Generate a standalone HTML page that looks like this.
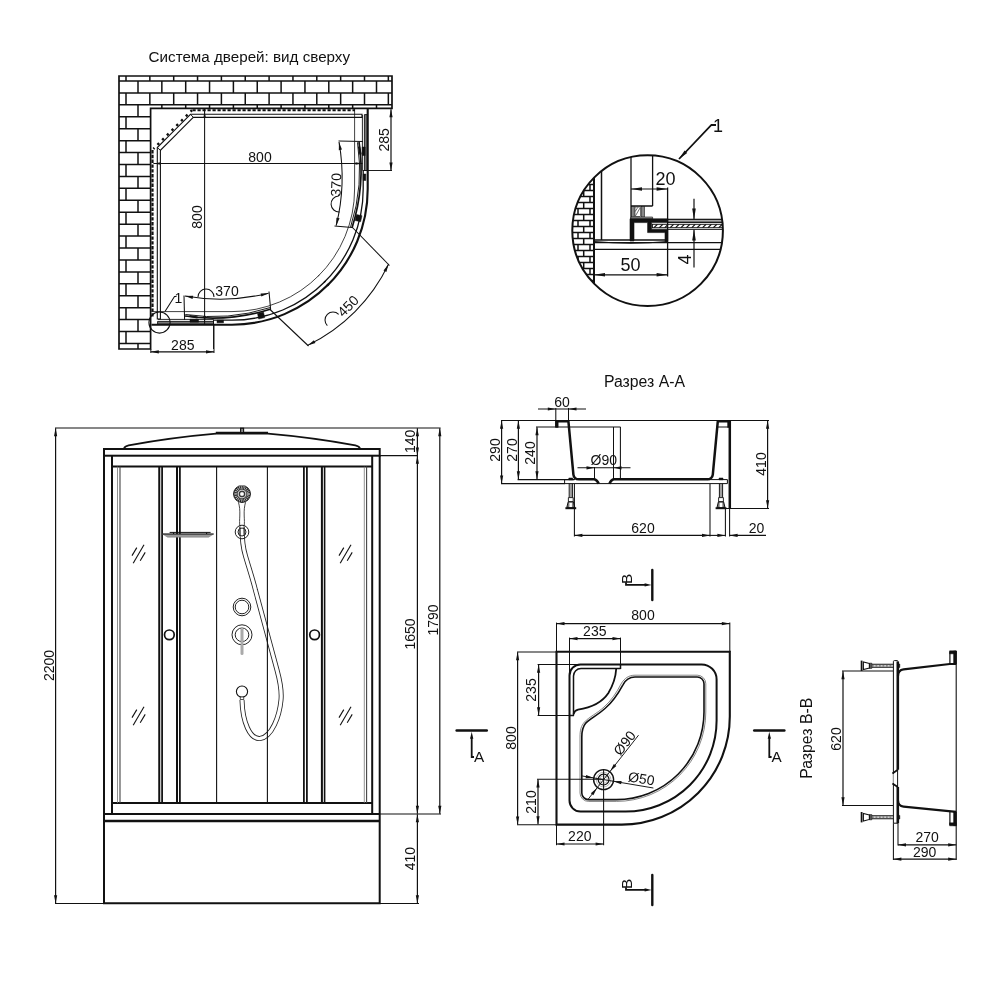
<!DOCTYPE html>
<html lang="ru"><head><meta charset="utf-8"><title>Схема душевой кабины</title>
<style>
html,body{margin:0;padding:0;background:#fff;}
body{width:1000px;height:1000px;overflow:hidden;}
svg{display:block;will-change:transform;}
svg text{font-family:'Liberation Sans', sans-serif;fill:#111;}
</style></head><body>
<svg width="1000" height="1000" viewBox="0 0 1000 1000">
<rect x="0" y="0" width="1000" height="1000" fill="#fff"/>
<g id="topview">
<text x="148.60" y="61.60" font-size="15.2" text-anchor="start" >Система дверей: вид сверху</text>
<clipPath id="wallclip"><path d="M119 76 H392 V108.4 H150.6 V349 H119 Z"/></clipPath>
<g clip-path="url(#wallclip)">
<line x1="119.00" y1="81.00" x2="392.00" y2="81.00" stroke="#111" stroke-width="1.5" />
<line x1="119.00" y1="92.93" x2="392.00" y2="92.93" stroke="#111" stroke-width="1.5" />
<line x1="119.00" y1="104.86" x2="392.00" y2="104.86" stroke="#111" stroke-width="1.5" />
<line x1="119.00" y1="116.79" x2="150.60" y2="116.79" stroke="#111" stroke-width="1.5" />
<line x1="119.00" y1="128.72" x2="150.60" y2="128.72" stroke="#111" stroke-width="1.5" />
<line x1="119.00" y1="140.65" x2="150.60" y2="140.65" stroke="#111" stroke-width="1.5" />
<line x1="119.00" y1="152.58" x2="150.60" y2="152.58" stroke="#111" stroke-width="1.5" />
<line x1="119.00" y1="164.51" x2="150.60" y2="164.51" stroke="#111" stroke-width="1.5" />
<line x1="119.00" y1="176.44" x2="150.60" y2="176.44" stroke="#111" stroke-width="1.5" />
<line x1="119.00" y1="188.37" x2="150.60" y2="188.37" stroke="#111" stroke-width="1.5" />
<line x1="119.00" y1="200.30" x2="150.60" y2="200.30" stroke="#111" stroke-width="1.5" />
<line x1="119.00" y1="212.23" x2="150.60" y2="212.23" stroke="#111" stroke-width="1.5" />
<line x1="119.00" y1="224.16" x2="150.60" y2="224.16" stroke="#111" stroke-width="1.5" />
<line x1="119.00" y1="236.09" x2="150.60" y2="236.09" stroke="#111" stroke-width="1.5" />
<line x1="119.00" y1="248.02" x2="150.60" y2="248.02" stroke="#111" stroke-width="1.5" />
<line x1="119.00" y1="259.95" x2="150.60" y2="259.95" stroke="#111" stroke-width="1.5" />
<line x1="119.00" y1="271.88" x2="150.60" y2="271.88" stroke="#111" stroke-width="1.5" />
<line x1="119.00" y1="283.81" x2="150.60" y2="283.81" stroke="#111" stroke-width="1.5" />
<line x1="119.00" y1="295.74" x2="150.60" y2="295.74" stroke="#111" stroke-width="1.5" />
<line x1="119.00" y1="307.67" x2="150.60" y2="307.67" stroke="#111" stroke-width="1.5" />
<line x1="119.00" y1="319.60" x2="150.60" y2="319.60" stroke="#111" stroke-width="1.5" />
<line x1="119.00" y1="331.53" x2="150.60" y2="331.53" stroke="#111" stroke-width="1.5" />
<line x1="119.00" y1="343.46" x2="150.60" y2="343.46" stroke="#111" stroke-width="1.5" />
<line x1="126.00" y1="76.00" x2="126.00" y2="81.00" stroke="#111" stroke-width="1.5" />
<line x1="149.85" y1="76.00" x2="149.85" y2="81.00" stroke="#111" stroke-width="1.5" />
<line x1="173.70" y1="76.00" x2="173.70" y2="81.00" stroke="#111" stroke-width="1.5" />
<line x1="197.55" y1="76.00" x2="197.55" y2="81.00" stroke="#111" stroke-width="1.5" />
<line x1="221.40" y1="76.00" x2="221.40" y2="81.00" stroke="#111" stroke-width="1.5" />
<line x1="245.25" y1="76.00" x2="245.25" y2="81.00" stroke="#111" stroke-width="1.5" />
<line x1="269.10" y1="76.00" x2="269.10" y2="81.00" stroke="#111" stroke-width="1.5" />
<line x1="292.95" y1="76.00" x2="292.95" y2="81.00" stroke="#111" stroke-width="1.5" />
<line x1="316.80" y1="76.00" x2="316.80" y2="81.00" stroke="#111" stroke-width="1.5" />
<line x1="340.65" y1="76.00" x2="340.65" y2="81.00" stroke="#111" stroke-width="1.5" />
<line x1="364.50" y1="76.00" x2="364.50" y2="81.00" stroke="#111" stroke-width="1.5" />
<line x1="388.35" y1="76.00" x2="388.35" y2="81.00" stroke="#111" stroke-width="1.5" />
<line x1="138.00" y1="81.00" x2="138.00" y2="92.93" stroke="#111" stroke-width="1.5" />
<line x1="161.85" y1="81.00" x2="161.85" y2="92.93" stroke="#111" stroke-width="1.5" />
<line x1="185.70" y1="81.00" x2="185.70" y2="92.93" stroke="#111" stroke-width="1.5" />
<line x1="209.55" y1="81.00" x2="209.55" y2="92.93" stroke="#111" stroke-width="1.5" />
<line x1="233.40" y1="81.00" x2="233.40" y2="92.93" stroke="#111" stroke-width="1.5" />
<line x1="257.25" y1="81.00" x2="257.25" y2="92.93" stroke="#111" stroke-width="1.5" />
<line x1="281.10" y1="81.00" x2="281.10" y2="92.93" stroke="#111" stroke-width="1.5" />
<line x1="304.95" y1="81.00" x2="304.95" y2="92.93" stroke="#111" stroke-width="1.5" />
<line x1="328.80" y1="81.00" x2="328.80" y2="92.93" stroke="#111" stroke-width="1.5" />
<line x1="352.65" y1="81.00" x2="352.65" y2="92.93" stroke="#111" stroke-width="1.5" />
<line x1="376.50" y1="81.00" x2="376.50" y2="92.93" stroke="#111" stroke-width="1.5" />
<line x1="126.00" y1="92.93" x2="126.00" y2="104.86" stroke="#111" stroke-width="1.5" />
<line x1="149.85" y1="92.93" x2="149.85" y2="104.86" stroke="#111" stroke-width="1.5" />
<line x1="173.70" y1="92.93" x2="173.70" y2="104.86" stroke="#111" stroke-width="1.5" />
<line x1="197.55" y1="92.93" x2="197.55" y2="104.86" stroke="#111" stroke-width="1.5" />
<line x1="221.40" y1="92.93" x2="221.40" y2="104.86" stroke="#111" stroke-width="1.5" />
<line x1="245.25" y1="92.93" x2="245.25" y2="104.86" stroke="#111" stroke-width="1.5" />
<line x1="269.10" y1="92.93" x2="269.10" y2="104.86" stroke="#111" stroke-width="1.5" />
<line x1="292.95" y1="92.93" x2="292.95" y2="104.86" stroke="#111" stroke-width="1.5" />
<line x1="316.80" y1="92.93" x2="316.80" y2="104.86" stroke="#111" stroke-width="1.5" />
<line x1="340.65" y1="92.93" x2="340.65" y2="104.86" stroke="#111" stroke-width="1.5" />
<line x1="364.50" y1="92.93" x2="364.50" y2="104.86" stroke="#111" stroke-width="1.5" />
<line x1="388.35" y1="92.93" x2="388.35" y2="104.86" stroke="#111" stroke-width="1.5" />
<line x1="138.00" y1="104.86" x2="138.00" y2="116.79" stroke="#111" stroke-width="1.5" />
<line x1="161.85" y1="104.86" x2="161.85" y2="116.79" stroke="#111" stroke-width="1.5" />
<line x1="185.70" y1="104.86" x2="185.70" y2="116.79" stroke="#111" stroke-width="1.5" />
<line x1="209.55" y1="104.86" x2="209.55" y2="116.79" stroke="#111" stroke-width="1.5" />
<line x1="233.40" y1="104.86" x2="233.40" y2="116.79" stroke="#111" stroke-width="1.5" />
<line x1="257.25" y1="104.86" x2="257.25" y2="116.79" stroke="#111" stroke-width="1.5" />
<line x1="281.10" y1="104.86" x2="281.10" y2="116.79" stroke="#111" stroke-width="1.5" />
<line x1="304.95" y1="104.86" x2="304.95" y2="116.79" stroke="#111" stroke-width="1.5" />
<line x1="328.80" y1="104.86" x2="328.80" y2="116.79" stroke="#111" stroke-width="1.5" />
<line x1="352.65" y1="104.86" x2="352.65" y2="116.79" stroke="#111" stroke-width="1.5" />
<line x1="376.50" y1="104.86" x2="376.50" y2="116.79" stroke="#111" stroke-width="1.5" />
<line x1="126.00" y1="116.79" x2="126.00" y2="128.72" stroke="#111" stroke-width="1.5" />
<line x1="173.70" y1="116.79" x2="173.70" y2="128.72" stroke="#111" stroke-width="1.5" />
<line x1="197.55" y1="116.79" x2="197.55" y2="128.72" stroke="#111" stroke-width="1.5" />
<line x1="221.40" y1="116.79" x2="221.40" y2="128.72" stroke="#111" stroke-width="1.5" />
<line x1="245.25" y1="116.79" x2="245.25" y2="128.72" stroke="#111" stroke-width="1.5" />
<line x1="269.10" y1="116.79" x2="269.10" y2="128.72" stroke="#111" stroke-width="1.5" />
<line x1="292.95" y1="116.79" x2="292.95" y2="128.72" stroke="#111" stroke-width="1.5" />
<line x1="316.80" y1="116.79" x2="316.80" y2="128.72" stroke="#111" stroke-width="1.5" />
<line x1="340.65" y1="116.79" x2="340.65" y2="128.72" stroke="#111" stroke-width="1.5" />
<line x1="364.50" y1="116.79" x2="364.50" y2="128.72" stroke="#111" stroke-width="1.5" />
<line x1="388.35" y1="116.79" x2="388.35" y2="128.72" stroke="#111" stroke-width="1.5" />
<line x1="138.00" y1="128.72" x2="138.00" y2="140.65" stroke="#111" stroke-width="1.5" />
<line x1="161.85" y1="128.72" x2="161.85" y2="140.65" stroke="#111" stroke-width="1.5" />
<line x1="185.70" y1="128.72" x2="185.70" y2="140.65" stroke="#111" stroke-width="1.5" />
<line x1="209.55" y1="128.72" x2="209.55" y2="140.65" stroke="#111" stroke-width="1.5" />
<line x1="233.40" y1="128.72" x2="233.40" y2="140.65" stroke="#111" stroke-width="1.5" />
<line x1="257.25" y1="128.72" x2="257.25" y2="140.65" stroke="#111" stroke-width="1.5" />
<line x1="281.10" y1="128.72" x2="281.10" y2="140.65" stroke="#111" stroke-width="1.5" />
<line x1="304.95" y1="128.72" x2="304.95" y2="140.65" stroke="#111" stroke-width="1.5" />
<line x1="328.80" y1="128.72" x2="328.80" y2="140.65" stroke="#111" stroke-width="1.5" />
<line x1="352.65" y1="128.72" x2="352.65" y2="140.65" stroke="#111" stroke-width="1.5" />
<line x1="376.50" y1="128.72" x2="376.50" y2="140.65" stroke="#111" stroke-width="1.5" />
<line x1="126.00" y1="140.65" x2="126.00" y2="152.58" stroke="#111" stroke-width="1.5" />
<line x1="173.70" y1="140.65" x2="173.70" y2="152.58" stroke="#111" stroke-width="1.5" />
<line x1="197.55" y1="140.65" x2="197.55" y2="152.58" stroke="#111" stroke-width="1.5" />
<line x1="221.40" y1="140.65" x2="221.40" y2="152.58" stroke="#111" stroke-width="1.5" />
<line x1="245.25" y1="140.65" x2="245.25" y2="152.58" stroke="#111" stroke-width="1.5" />
<line x1="269.10" y1="140.65" x2="269.10" y2="152.58" stroke="#111" stroke-width="1.5" />
<line x1="292.95" y1="140.65" x2="292.95" y2="152.58" stroke="#111" stroke-width="1.5" />
<line x1="316.80" y1="140.65" x2="316.80" y2="152.58" stroke="#111" stroke-width="1.5" />
<line x1="340.65" y1="140.65" x2="340.65" y2="152.58" stroke="#111" stroke-width="1.5" />
<line x1="364.50" y1="140.65" x2="364.50" y2="152.58" stroke="#111" stroke-width="1.5" />
<line x1="388.35" y1="140.65" x2="388.35" y2="152.58" stroke="#111" stroke-width="1.5" />
<line x1="138.00" y1="152.58" x2="138.00" y2="164.51" stroke="#111" stroke-width="1.5" />
<line x1="161.85" y1="152.58" x2="161.85" y2="164.51" stroke="#111" stroke-width="1.5" />
<line x1="185.70" y1="152.58" x2="185.70" y2="164.51" stroke="#111" stroke-width="1.5" />
<line x1="209.55" y1="152.58" x2="209.55" y2="164.51" stroke="#111" stroke-width="1.5" />
<line x1="233.40" y1="152.58" x2="233.40" y2="164.51" stroke="#111" stroke-width="1.5" />
<line x1="257.25" y1="152.58" x2="257.25" y2="164.51" stroke="#111" stroke-width="1.5" />
<line x1="281.10" y1="152.58" x2="281.10" y2="164.51" stroke="#111" stroke-width="1.5" />
<line x1="304.95" y1="152.58" x2="304.95" y2="164.51" stroke="#111" stroke-width="1.5" />
<line x1="328.80" y1="152.58" x2="328.80" y2="164.51" stroke="#111" stroke-width="1.5" />
<line x1="352.65" y1="152.58" x2="352.65" y2="164.51" stroke="#111" stroke-width="1.5" />
<line x1="376.50" y1="152.58" x2="376.50" y2="164.51" stroke="#111" stroke-width="1.5" />
<line x1="126.00" y1="164.51" x2="126.00" y2="176.44" stroke="#111" stroke-width="1.5" />
<line x1="173.70" y1="164.51" x2="173.70" y2="176.44" stroke="#111" stroke-width="1.5" />
<line x1="197.55" y1="164.51" x2="197.55" y2="176.44" stroke="#111" stroke-width="1.5" />
<line x1="221.40" y1="164.51" x2="221.40" y2="176.44" stroke="#111" stroke-width="1.5" />
<line x1="245.25" y1="164.51" x2="245.25" y2="176.44" stroke="#111" stroke-width="1.5" />
<line x1="269.10" y1="164.51" x2="269.10" y2="176.44" stroke="#111" stroke-width="1.5" />
<line x1="292.95" y1="164.51" x2="292.95" y2="176.44" stroke="#111" stroke-width="1.5" />
<line x1="316.80" y1="164.51" x2="316.80" y2="176.44" stroke="#111" stroke-width="1.5" />
<line x1="340.65" y1="164.51" x2="340.65" y2="176.44" stroke="#111" stroke-width="1.5" />
<line x1="364.50" y1="164.51" x2="364.50" y2="176.44" stroke="#111" stroke-width="1.5" />
<line x1="388.35" y1="164.51" x2="388.35" y2="176.44" stroke="#111" stroke-width="1.5" />
<line x1="138.00" y1="176.44" x2="138.00" y2="188.37" stroke="#111" stroke-width="1.5" />
<line x1="161.85" y1="176.44" x2="161.85" y2="188.37" stroke="#111" stroke-width="1.5" />
<line x1="185.70" y1="176.44" x2="185.70" y2="188.37" stroke="#111" stroke-width="1.5" />
<line x1="209.55" y1="176.44" x2="209.55" y2="188.37" stroke="#111" stroke-width="1.5" />
<line x1="233.40" y1="176.44" x2="233.40" y2="188.37" stroke="#111" stroke-width="1.5" />
<line x1="257.25" y1="176.44" x2="257.25" y2="188.37" stroke="#111" stroke-width="1.5" />
<line x1="281.10" y1="176.44" x2="281.10" y2="188.37" stroke="#111" stroke-width="1.5" />
<line x1="304.95" y1="176.44" x2="304.95" y2="188.37" stroke="#111" stroke-width="1.5" />
<line x1="328.80" y1="176.44" x2="328.80" y2="188.37" stroke="#111" stroke-width="1.5" />
<line x1="352.65" y1="176.44" x2="352.65" y2="188.37" stroke="#111" stroke-width="1.5" />
<line x1="376.50" y1="176.44" x2="376.50" y2="188.37" stroke="#111" stroke-width="1.5" />
<line x1="126.00" y1="188.37" x2="126.00" y2="200.30" stroke="#111" stroke-width="1.5" />
<line x1="173.70" y1="188.37" x2="173.70" y2="200.30" stroke="#111" stroke-width="1.5" />
<line x1="197.55" y1="188.37" x2="197.55" y2="200.30" stroke="#111" stroke-width="1.5" />
<line x1="221.40" y1="188.37" x2="221.40" y2="200.30" stroke="#111" stroke-width="1.5" />
<line x1="245.25" y1="188.37" x2="245.25" y2="200.30" stroke="#111" stroke-width="1.5" />
<line x1="269.10" y1="188.37" x2="269.10" y2="200.30" stroke="#111" stroke-width="1.5" />
<line x1="292.95" y1="188.37" x2="292.95" y2="200.30" stroke="#111" stroke-width="1.5" />
<line x1="316.80" y1="188.37" x2="316.80" y2="200.30" stroke="#111" stroke-width="1.5" />
<line x1="340.65" y1="188.37" x2="340.65" y2="200.30" stroke="#111" stroke-width="1.5" />
<line x1="364.50" y1="188.37" x2="364.50" y2="200.30" stroke="#111" stroke-width="1.5" />
<line x1="388.35" y1="188.37" x2="388.35" y2="200.30" stroke="#111" stroke-width="1.5" />
<line x1="138.00" y1="200.30" x2="138.00" y2="212.23" stroke="#111" stroke-width="1.5" />
<line x1="161.85" y1="200.30" x2="161.85" y2="212.23" stroke="#111" stroke-width="1.5" />
<line x1="185.70" y1="200.30" x2="185.70" y2="212.23" stroke="#111" stroke-width="1.5" />
<line x1="209.55" y1="200.30" x2="209.55" y2="212.23" stroke="#111" stroke-width="1.5" />
<line x1="233.40" y1="200.30" x2="233.40" y2="212.23" stroke="#111" stroke-width="1.5" />
<line x1="257.25" y1="200.30" x2="257.25" y2="212.23" stroke="#111" stroke-width="1.5" />
<line x1="281.10" y1="200.30" x2="281.10" y2="212.23" stroke="#111" stroke-width="1.5" />
<line x1="304.95" y1="200.30" x2="304.95" y2="212.23" stroke="#111" stroke-width="1.5" />
<line x1="328.80" y1="200.30" x2="328.80" y2="212.23" stroke="#111" stroke-width="1.5" />
<line x1="352.65" y1="200.30" x2="352.65" y2="212.23" stroke="#111" stroke-width="1.5" />
<line x1="376.50" y1="200.30" x2="376.50" y2="212.23" stroke="#111" stroke-width="1.5" />
<line x1="126.00" y1="212.23" x2="126.00" y2="224.16" stroke="#111" stroke-width="1.5" />
<line x1="173.70" y1="212.23" x2="173.70" y2="224.16" stroke="#111" stroke-width="1.5" />
<line x1="197.55" y1="212.23" x2="197.55" y2="224.16" stroke="#111" stroke-width="1.5" />
<line x1="221.40" y1="212.23" x2="221.40" y2="224.16" stroke="#111" stroke-width="1.5" />
<line x1="245.25" y1="212.23" x2="245.25" y2="224.16" stroke="#111" stroke-width="1.5" />
<line x1="269.10" y1="212.23" x2="269.10" y2="224.16" stroke="#111" stroke-width="1.5" />
<line x1="292.95" y1="212.23" x2="292.95" y2="224.16" stroke="#111" stroke-width="1.5" />
<line x1="316.80" y1="212.23" x2="316.80" y2="224.16" stroke="#111" stroke-width="1.5" />
<line x1="340.65" y1="212.23" x2="340.65" y2="224.16" stroke="#111" stroke-width="1.5" />
<line x1="364.50" y1="212.23" x2="364.50" y2="224.16" stroke="#111" stroke-width="1.5" />
<line x1="388.35" y1="212.23" x2="388.35" y2="224.16" stroke="#111" stroke-width="1.5" />
<line x1="138.00" y1="224.16" x2="138.00" y2="236.09" stroke="#111" stroke-width="1.5" />
<line x1="161.85" y1="224.16" x2="161.85" y2="236.09" stroke="#111" stroke-width="1.5" />
<line x1="185.70" y1="224.16" x2="185.70" y2="236.09" stroke="#111" stroke-width="1.5" />
<line x1="209.55" y1="224.16" x2="209.55" y2="236.09" stroke="#111" stroke-width="1.5" />
<line x1="233.40" y1="224.16" x2="233.40" y2="236.09" stroke="#111" stroke-width="1.5" />
<line x1="257.25" y1="224.16" x2="257.25" y2="236.09" stroke="#111" stroke-width="1.5" />
<line x1="281.10" y1="224.16" x2="281.10" y2="236.09" stroke="#111" stroke-width="1.5" />
<line x1="304.95" y1="224.16" x2="304.95" y2="236.09" stroke="#111" stroke-width="1.5" />
<line x1="328.80" y1="224.16" x2="328.80" y2="236.09" stroke="#111" stroke-width="1.5" />
<line x1="352.65" y1="224.16" x2="352.65" y2="236.09" stroke="#111" stroke-width="1.5" />
<line x1="376.50" y1="224.16" x2="376.50" y2="236.09" stroke="#111" stroke-width="1.5" />
<line x1="126.00" y1="236.09" x2="126.00" y2="248.02" stroke="#111" stroke-width="1.5" />
<line x1="173.70" y1="236.09" x2="173.70" y2="248.02" stroke="#111" stroke-width="1.5" />
<line x1="197.55" y1="236.09" x2="197.55" y2="248.02" stroke="#111" stroke-width="1.5" />
<line x1="221.40" y1="236.09" x2="221.40" y2="248.02" stroke="#111" stroke-width="1.5" />
<line x1="245.25" y1="236.09" x2="245.25" y2="248.02" stroke="#111" stroke-width="1.5" />
<line x1="269.10" y1="236.09" x2="269.10" y2="248.02" stroke="#111" stroke-width="1.5" />
<line x1="292.95" y1="236.09" x2="292.95" y2="248.02" stroke="#111" stroke-width="1.5" />
<line x1="316.80" y1="236.09" x2="316.80" y2="248.02" stroke="#111" stroke-width="1.5" />
<line x1="340.65" y1="236.09" x2="340.65" y2="248.02" stroke="#111" stroke-width="1.5" />
<line x1="364.50" y1="236.09" x2="364.50" y2="248.02" stroke="#111" stroke-width="1.5" />
<line x1="388.35" y1="236.09" x2="388.35" y2="248.02" stroke="#111" stroke-width="1.5" />
<line x1="138.00" y1="248.02" x2="138.00" y2="259.95" stroke="#111" stroke-width="1.5" />
<line x1="161.85" y1="248.02" x2="161.85" y2="259.95" stroke="#111" stroke-width="1.5" />
<line x1="185.70" y1="248.02" x2="185.70" y2="259.95" stroke="#111" stroke-width="1.5" />
<line x1="209.55" y1="248.02" x2="209.55" y2="259.95" stroke="#111" stroke-width="1.5" />
<line x1="233.40" y1="248.02" x2="233.40" y2="259.95" stroke="#111" stroke-width="1.5" />
<line x1="257.25" y1="248.02" x2="257.25" y2="259.95" stroke="#111" stroke-width="1.5" />
<line x1="281.10" y1="248.02" x2="281.10" y2="259.95" stroke="#111" stroke-width="1.5" />
<line x1="304.95" y1="248.02" x2="304.95" y2="259.95" stroke="#111" stroke-width="1.5" />
<line x1="328.80" y1="248.02" x2="328.80" y2="259.95" stroke="#111" stroke-width="1.5" />
<line x1="352.65" y1="248.02" x2="352.65" y2="259.95" stroke="#111" stroke-width="1.5" />
<line x1="376.50" y1="248.02" x2="376.50" y2="259.95" stroke="#111" stroke-width="1.5" />
<line x1="126.00" y1="259.95" x2="126.00" y2="271.88" stroke="#111" stroke-width="1.5" />
<line x1="173.70" y1="259.95" x2="173.70" y2="271.88" stroke="#111" stroke-width="1.5" />
<line x1="197.55" y1="259.95" x2="197.55" y2="271.88" stroke="#111" stroke-width="1.5" />
<line x1="221.40" y1="259.95" x2="221.40" y2="271.88" stroke="#111" stroke-width="1.5" />
<line x1="245.25" y1="259.95" x2="245.25" y2="271.88" stroke="#111" stroke-width="1.5" />
<line x1="269.10" y1="259.95" x2="269.10" y2="271.88" stroke="#111" stroke-width="1.5" />
<line x1="292.95" y1="259.95" x2="292.95" y2="271.88" stroke="#111" stroke-width="1.5" />
<line x1="316.80" y1="259.95" x2="316.80" y2="271.88" stroke="#111" stroke-width="1.5" />
<line x1="340.65" y1="259.95" x2="340.65" y2="271.88" stroke="#111" stroke-width="1.5" />
<line x1="364.50" y1="259.95" x2="364.50" y2="271.88" stroke="#111" stroke-width="1.5" />
<line x1="388.35" y1="259.95" x2="388.35" y2="271.88" stroke="#111" stroke-width="1.5" />
<line x1="138.00" y1="271.88" x2="138.00" y2="283.81" stroke="#111" stroke-width="1.5" />
<line x1="161.85" y1="271.88" x2="161.85" y2="283.81" stroke="#111" stroke-width="1.5" />
<line x1="185.70" y1="271.88" x2="185.70" y2="283.81" stroke="#111" stroke-width="1.5" />
<line x1="209.55" y1="271.88" x2="209.55" y2="283.81" stroke="#111" stroke-width="1.5" />
<line x1="233.40" y1="271.88" x2="233.40" y2="283.81" stroke="#111" stroke-width="1.5" />
<line x1="257.25" y1="271.88" x2="257.25" y2="283.81" stroke="#111" stroke-width="1.5" />
<line x1="281.10" y1="271.88" x2="281.10" y2="283.81" stroke="#111" stroke-width="1.5" />
<line x1="304.95" y1="271.88" x2="304.95" y2="283.81" stroke="#111" stroke-width="1.5" />
<line x1="328.80" y1="271.88" x2="328.80" y2="283.81" stroke="#111" stroke-width="1.5" />
<line x1="352.65" y1="271.88" x2="352.65" y2="283.81" stroke="#111" stroke-width="1.5" />
<line x1="376.50" y1="271.88" x2="376.50" y2="283.81" stroke="#111" stroke-width="1.5" />
<line x1="126.00" y1="283.81" x2="126.00" y2="295.74" stroke="#111" stroke-width="1.5" />
<line x1="173.70" y1="283.81" x2="173.70" y2="295.74" stroke="#111" stroke-width="1.5" />
<line x1="197.55" y1="283.81" x2="197.55" y2="295.74" stroke="#111" stroke-width="1.5" />
<line x1="221.40" y1="283.81" x2="221.40" y2="295.74" stroke="#111" stroke-width="1.5" />
<line x1="245.25" y1="283.81" x2="245.25" y2="295.74" stroke="#111" stroke-width="1.5" />
<line x1="269.10" y1="283.81" x2="269.10" y2="295.74" stroke="#111" stroke-width="1.5" />
<line x1="292.95" y1="283.81" x2="292.95" y2="295.74" stroke="#111" stroke-width="1.5" />
<line x1="316.80" y1="283.81" x2="316.80" y2="295.74" stroke="#111" stroke-width="1.5" />
<line x1="340.65" y1="283.81" x2="340.65" y2="295.74" stroke="#111" stroke-width="1.5" />
<line x1="364.50" y1="283.81" x2="364.50" y2="295.74" stroke="#111" stroke-width="1.5" />
<line x1="388.35" y1="283.81" x2="388.35" y2="295.74" stroke="#111" stroke-width="1.5" />
<line x1="138.00" y1="295.74" x2="138.00" y2="307.67" stroke="#111" stroke-width="1.5" />
<line x1="161.85" y1="295.74" x2="161.85" y2="307.67" stroke="#111" stroke-width="1.5" />
<line x1="185.70" y1="295.74" x2="185.70" y2="307.67" stroke="#111" stroke-width="1.5" />
<line x1="209.55" y1="295.74" x2="209.55" y2="307.67" stroke="#111" stroke-width="1.5" />
<line x1="233.40" y1="295.74" x2="233.40" y2="307.67" stroke="#111" stroke-width="1.5" />
<line x1="257.25" y1="295.74" x2="257.25" y2="307.67" stroke="#111" stroke-width="1.5" />
<line x1="281.10" y1="295.74" x2="281.10" y2="307.67" stroke="#111" stroke-width="1.5" />
<line x1="304.95" y1="295.74" x2="304.95" y2="307.67" stroke="#111" stroke-width="1.5" />
<line x1="328.80" y1="295.74" x2="328.80" y2="307.67" stroke="#111" stroke-width="1.5" />
<line x1="352.65" y1="295.74" x2="352.65" y2="307.67" stroke="#111" stroke-width="1.5" />
<line x1="376.50" y1="295.74" x2="376.50" y2="307.67" stroke="#111" stroke-width="1.5" />
<line x1="126.00" y1="307.67" x2="126.00" y2="319.60" stroke="#111" stroke-width="1.5" />
<line x1="173.70" y1="307.67" x2="173.70" y2="319.60" stroke="#111" stroke-width="1.5" />
<line x1="197.55" y1="307.67" x2="197.55" y2="319.60" stroke="#111" stroke-width="1.5" />
<line x1="221.40" y1="307.67" x2="221.40" y2="319.60" stroke="#111" stroke-width="1.5" />
<line x1="245.25" y1="307.67" x2="245.25" y2="319.60" stroke="#111" stroke-width="1.5" />
<line x1="269.10" y1="307.67" x2="269.10" y2="319.60" stroke="#111" stroke-width="1.5" />
<line x1="292.95" y1="307.67" x2="292.95" y2="319.60" stroke="#111" stroke-width="1.5" />
<line x1="316.80" y1="307.67" x2="316.80" y2="319.60" stroke="#111" stroke-width="1.5" />
<line x1="340.65" y1="307.67" x2="340.65" y2="319.60" stroke="#111" stroke-width="1.5" />
<line x1="364.50" y1="307.67" x2="364.50" y2="319.60" stroke="#111" stroke-width="1.5" />
<line x1="388.35" y1="307.67" x2="388.35" y2="319.60" stroke="#111" stroke-width="1.5" />
<line x1="138.00" y1="319.60" x2="138.00" y2="331.53" stroke="#111" stroke-width="1.5" />
<line x1="161.85" y1="319.60" x2="161.85" y2="331.53" stroke="#111" stroke-width="1.5" />
<line x1="185.70" y1="319.60" x2="185.70" y2="331.53" stroke="#111" stroke-width="1.5" />
<line x1="209.55" y1="319.60" x2="209.55" y2="331.53" stroke="#111" stroke-width="1.5" />
<line x1="233.40" y1="319.60" x2="233.40" y2="331.53" stroke="#111" stroke-width="1.5" />
<line x1="257.25" y1="319.60" x2="257.25" y2="331.53" stroke="#111" stroke-width="1.5" />
<line x1="281.10" y1="319.60" x2="281.10" y2="331.53" stroke="#111" stroke-width="1.5" />
<line x1="304.95" y1="319.60" x2="304.95" y2="331.53" stroke="#111" stroke-width="1.5" />
<line x1="328.80" y1="319.60" x2="328.80" y2="331.53" stroke="#111" stroke-width="1.5" />
<line x1="352.65" y1="319.60" x2="352.65" y2="331.53" stroke="#111" stroke-width="1.5" />
<line x1="376.50" y1="319.60" x2="376.50" y2="331.53" stroke="#111" stroke-width="1.5" />
<line x1="126.00" y1="331.53" x2="126.00" y2="343.46" stroke="#111" stroke-width="1.5" />
<line x1="173.70" y1="331.53" x2="173.70" y2="343.46" stroke="#111" stroke-width="1.5" />
<line x1="197.55" y1="331.53" x2="197.55" y2="343.46" stroke="#111" stroke-width="1.5" />
<line x1="221.40" y1="331.53" x2="221.40" y2="343.46" stroke="#111" stroke-width="1.5" />
<line x1="245.25" y1="331.53" x2="245.25" y2="343.46" stroke="#111" stroke-width="1.5" />
<line x1="269.10" y1="331.53" x2="269.10" y2="343.46" stroke="#111" stroke-width="1.5" />
<line x1="292.95" y1="331.53" x2="292.95" y2="343.46" stroke="#111" stroke-width="1.5" />
<line x1="316.80" y1="331.53" x2="316.80" y2="343.46" stroke="#111" stroke-width="1.5" />
<line x1="340.65" y1="331.53" x2="340.65" y2="343.46" stroke="#111" stroke-width="1.5" />
<line x1="364.50" y1="331.53" x2="364.50" y2="343.46" stroke="#111" stroke-width="1.5" />
<line x1="388.35" y1="331.53" x2="388.35" y2="343.46" stroke="#111" stroke-width="1.5" />
<line x1="138.00" y1="343.46" x2="138.00" y2="349.00" stroke="#111" stroke-width="1.5" />
<line x1="161.85" y1="343.46" x2="161.85" y2="349.00" stroke="#111" stroke-width="1.5" />
<line x1="185.70" y1="343.46" x2="185.70" y2="349.00" stroke="#111" stroke-width="1.5" />
<line x1="209.55" y1="343.46" x2="209.55" y2="349.00" stroke="#111" stroke-width="1.5" />
<line x1="233.40" y1="343.46" x2="233.40" y2="349.00" stroke="#111" stroke-width="1.5" />
<line x1="257.25" y1="343.46" x2="257.25" y2="349.00" stroke="#111" stroke-width="1.5" />
<line x1="281.10" y1="343.46" x2="281.10" y2="349.00" stroke="#111" stroke-width="1.5" />
<line x1="304.95" y1="343.46" x2="304.95" y2="349.00" stroke="#111" stroke-width="1.5" />
<line x1="328.80" y1="343.46" x2="328.80" y2="349.00" stroke="#111" stroke-width="1.5" />
<line x1="352.65" y1="343.46" x2="352.65" y2="349.00" stroke="#111" stroke-width="1.5" />
<line x1="376.50" y1="343.46" x2="376.50" y2="349.00" stroke="#111" stroke-width="1.5" />
</g>
<path d="M119 76 H392 V108.4 H150.6 V349 H119 Z" stroke="#111" stroke-width="1.7" fill="none" />
<line x1="192.50" y1="110.20" x2="355.00" y2="110.20" stroke="#111" stroke-width="2.0" stroke-dasharray="3.2 1.8"/>
<line x1="152.50" y1="150.00" x2="152.50" y2="318.00" stroke="#111" stroke-width="2.2" stroke-dasharray="3.4 1.4"/>
<line x1="153.40" y1="148.80" x2="192.00" y2="110.20" stroke="#111" stroke-width="2.4" stroke-dasharray="2.4 4.3" stroke-dashoffset="1"/>
<path d="M173.9 130.9 L190.5 114.3 H362 V117.4 H193.3 L176.8 133.9" stroke="#111" stroke-width="1.1" fill="none" />
<line x1="190.50" y1="114.30" x2="193.30" y2="117.40" stroke="#111" stroke-width="0.95" />
<path d="M367.70 108.5 V189 A135.7 135.7 0 0 1 327.11 285.79" stroke="#111" stroke-width="2.1" fill="none" />
<path d="M363.20 170.5 V189 A131.2 131.2 0 0 1 323.96 282.58" stroke="#111" stroke-width="1.3" fill="none" />
<path d="M354.60 108.5 V189 A122.6 122.6 0 0 1 317.93 276.44" stroke="#111" stroke-width="0.8" fill="none" />
<path d="M362.4 115 V170.5" stroke="#111" stroke-width="0.9" fill="none" />
<path d="M364.4 114.6 H367 V170.5 H364.4 Z" stroke="#111" stroke-width="0.9" fill="#777" />
<line x1="362.50" y1="170.50" x2="392.00" y2="170.50" stroke="#111" stroke-width="0.95" />
<path d="M359 142 Q365.5 185 352 228" stroke="#111" stroke-width="1.7" fill="none" />
<path d="M357.5 142.3 Q364 185 350.6 227" stroke="#111" stroke-width="0.95" fill="none" />
<path d="M362.2 147 h3 v8.5 h-3 z" stroke="#111" stroke-width="0.5" fill="#111" />
<path d="M363.2 174 h2.6 v6.5 h-2.6 z" stroke="#111" stroke-width="0.5" fill="#111" />
<path d="M356.5 214.5 l5.5 1.2 l-1.4 6 l-5.5 -1.2 z" stroke="#111" stroke-width="0.5" fill="#111" />
<path d="M359 146.5 l1.5 8" stroke="#111" stroke-width="2.2" fill="none" />
<line x1="338.50" y1="141.00" x2="363.00" y2="141.60" stroke="#111" stroke-width="1.05" />
<line x1="334.50" y1="226.00" x2="352.00" y2="227.60" stroke="#111" stroke-width="1.05" />
<path d="M339 142 Q346.5 184 336.2 225.5" stroke="#111" stroke-width="1.05" fill="none" />
<polygon points="339.00,142.00 341.96,149.60 338.81,150.16" fill="#111"/>
<polygon points="336.20,225.80 336.44,217.65 339.56,218.36" fill="#111"/>
<g transform="matrix(0 1 1 0 43 -43)">
<path d="M173.9 130.9 L190.5 114.3 H362 V117.4 H193.3 L176.8 133.9" stroke="#111" stroke-width="1.1" fill="none" />
<line x1="190.50" y1="114.30" x2="193.30" y2="117.40" stroke="#111" stroke-width="0.95" />
<path d="M367.70 108.5 V189 A135.7 135.7 0 0 1 327.11 285.79" stroke="#111" stroke-width="2.1" fill="none" />
<path d="M363.20 170.5 V189 A131.2 131.2 0 0 1 323.96 282.58" stroke="#111" stroke-width="1.3" fill="none" />
<path d="M354.60 108.5 V189 A122.6 122.6 0 0 1 317.93 276.44" stroke="#111" stroke-width="0.8" fill="none" />
<path d="M362.4 115 V170.5" stroke="#111" stroke-width="0.9" fill="none" />
<path d="M364.4 114.6 H367 V170.5 H364.4 Z" stroke="#111" stroke-width="0.9" fill="#777" />
<line x1="362.50" y1="170.50" x2="392.00" y2="170.50" stroke="#111" stroke-width="0.95" />
<path d="M359 142 Q365.5 185 352 228" stroke="#111" stroke-width="1.7" fill="none" />
<path d="M357.5 142.3 Q364 185 350.6 227" stroke="#111" stroke-width="0.95" fill="none" />
<path d="M362.2 147 h3 v8.5 h-3 z" stroke="#111" stroke-width="0.5" fill="#111" />
<path d="M363.2 174 h2.6 v6.5 h-2.6 z" stroke="#111" stroke-width="0.5" fill="#111" />
<path d="M356.5 214.5 l5.5 1.2 l-1.4 6 l-5.5 -1.2 z" stroke="#111" stroke-width="0.5" fill="#111" />
<path d="M359 146.5 l1.5 8" stroke="#111" stroke-width="2.2" fill="none" />
<line x1="338.50" y1="141.00" x2="363.00" y2="141.60" stroke="#111" stroke-width="1.05" />
<line x1="334.50" y1="226.00" x2="352.00" y2="227.60" stroke="#111" stroke-width="1.05" />
<path d="M339 142 Q346.5 184 336.2 225.5" stroke="#111" stroke-width="1.05" fill="none" />
<polygon points="339.00,142.00 341.96,149.60 338.81,150.16" fill="#111"/>
<polygon points="336.20,225.80 336.44,217.65 339.56,218.36" fill="#111"/>
</g>
<line x1="391.00" y1="109.30" x2="391.00" y2="170.50" stroke="#111" stroke-width="1.2" />
<polygon points="391.00,109.30 392.60,117.30 389.40,117.30" fill="#111"/>
<polygon points="391.00,170.50 389.40,162.50 392.60,162.50" fill="#111"/>
<text x="388.60" y="139.80" font-size="14" text-anchor="middle" transform="rotate(-90 388.60 139.80)" >285</text>
<line x1="150.80" y1="349.00" x2="150.80" y2="353.00" stroke="#111" stroke-width="0.95" />
<line x1="214.00" y1="324.50" x2="214.00" y2="353.00" stroke="#111" stroke-width="0.95" />
<line x1="150.80" y1="351.80" x2="214.00" y2="351.80" stroke="#111" stroke-width="1.2" />
<polygon points="150.80,351.80 158.80,350.20 158.80,353.40" fill="#111"/>
<polygon points="214.00,351.80 206.00,353.40 206.00,350.20" fill="#111"/>
<text x="182.80" y="349.60" font-size="14" text-anchor="middle" >285</text>
<line x1="153.40" y1="163.50" x2="362.50" y2="163.50" stroke="#111" stroke-width="1.05" />
<polygon points="153.60,163.50 160.60,162.20 160.60,164.80" fill="#111"/>
<polygon points="362.50,163.50 355.50,164.80 355.50,162.20" fill="#111"/>
<text x="260.00" y="161.60" font-size="14" text-anchor="middle" >800</text>
<line x1="204.60" y1="109.00" x2="204.60" y2="324.00" stroke="#111" stroke-width="1.05" />
<polygon points="204.60,111.00 205.90,118.00 203.30,118.00" fill="#111"/>
<polygon points="204.60,323.00 203.30,316.00 205.90,316.00" fill="#111"/>
<text x="201.80" y="217.00" font-size="14" text-anchor="middle" transform="rotate(-90 201.80 217.00)" >800</text>
<text x="227.00" y="296.00" font-size="14" text-anchor="middle" >370</text>
<path d="M198 297 A8 8 0 0 1 214 297" stroke="#111" stroke-width="1.05" fill="none" />
<text x="340.80" y="185.00" font-size="14" text-anchor="middle" transform="rotate(-88 340.80 185.00)" >370</text>
<path d="M339.6 212 A8 8 0 0 1 338.6 196" stroke="#111" stroke-width="1.05" fill="none" />
<circle cx="159.50" cy="322.50" r="10.60" stroke="#111" stroke-width="1.05" fill="none"/>
<path d="M165 311.5 L174.5 296.5 H176.5" stroke="#111" stroke-width="1.05" fill="none" />
<text x="178.30" y="302.50" font-size="14" text-anchor="middle" >1</text>
<line x1="352.00" y1="227.00" x2="389.50" y2="265.50" stroke="#111" stroke-width="1.05" />
<line x1="270.00" y1="309.50" x2="308.50" y2="346.00" stroke="#111" stroke-width="1.05" />
<path d="M388.65 264.05 A173.7 173.7 0 0 1 307.60 345.39" stroke="#111" stroke-width="1.05" fill="none" />
<polygon points="388.65,264.05 386.36,271.88 383.52,270.40" fill="#111"/>
<polygon points="307.60,345.39 313.93,340.24 315.42,343.07" fill="#111"/>
<text x="351.50" y="309.50" font-size="14" text-anchor="middle" transform="rotate(-45 351.50 309.50)" >450</text>
<g transform="rotate(-45 333 320)">
<path d="M325 320 A8 8 0 0 1 341 320" stroke="#111" stroke-width="1.05" fill="none" />
</g>
</g>
<g id="detail">
<clipPath id="dclip"><circle cx="647.6" cy="230.6" r="75.3"/></clipPath>
<g clip-path="url(#dclip)">
<line x1="560.00" y1="154.50" x2="594.00" y2="154.50" stroke="#111" stroke-width="1.5" />
<line x1="583.70" y1="154.50" x2="583.70" y2="160.50" stroke="#111" stroke-width="1.5" />
<line x1="571.70" y1="154.50" x2="571.70" y2="160.50" stroke="#111" stroke-width="1.5" />
<line x1="560.00" y1="160.50" x2="594.00" y2="160.50" stroke="#111" stroke-width="1.5" />
<line x1="590.00" y1="160.50" x2="590.00" y2="166.50" stroke="#111" stroke-width="1.5" />
<line x1="578.00" y1="160.50" x2="578.00" y2="166.50" stroke="#111" stroke-width="1.5" />
<line x1="560.00" y1="166.50" x2="594.00" y2="166.50" stroke="#111" stroke-width="1.5" />
<line x1="583.70" y1="166.50" x2="583.70" y2="172.50" stroke="#111" stroke-width="1.5" />
<line x1="571.70" y1="166.50" x2="571.70" y2="172.50" stroke="#111" stroke-width="1.5" />
<line x1="560.00" y1="172.50" x2="594.00" y2="172.50" stroke="#111" stroke-width="1.5" />
<line x1="590.00" y1="172.50" x2="590.00" y2="178.50" stroke="#111" stroke-width="1.5" />
<line x1="578.00" y1="172.50" x2="578.00" y2="178.50" stroke="#111" stroke-width="1.5" />
<line x1="560.00" y1="178.50" x2="594.00" y2="178.50" stroke="#111" stroke-width="1.5" />
<line x1="583.70" y1="178.50" x2="583.70" y2="184.50" stroke="#111" stroke-width="1.5" />
<line x1="571.70" y1="178.50" x2="571.70" y2="184.50" stroke="#111" stroke-width="1.5" />
<line x1="560.00" y1="184.50" x2="594.00" y2="184.50" stroke="#111" stroke-width="1.5" />
<line x1="590.00" y1="184.50" x2="590.00" y2="190.50" stroke="#111" stroke-width="1.5" />
<line x1="578.00" y1="184.50" x2="578.00" y2="190.50" stroke="#111" stroke-width="1.5" />
<line x1="560.00" y1="190.50" x2="594.00" y2="190.50" stroke="#111" stroke-width="1.5" />
<line x1="583.70" y1="190.50" x2="583.70" y2="196.50" stroke="#111" stroke-width="1.5" />
<line x1="571.70" y1="190.50" x2="571.70" y2="196.50" stroke="#111" stroke-width="1.5" />
<line x1="560.00" y1="196.50" x2="594.00" y2="196.50" stroke="#111" stroke-width="1.5" />
<line x1="590.00" y1="196.50" x2="590.00" y2="202.50" stroke="#111" stroke-width="1.5" />
<line x1="578.00" y1="196.50" x2="578.00" y2="202.50" stroke="#111" stroke-width="1.5" />
<line x1="560.00" y1="202.50" x2="594.00" y2="202.50" stroke="#111" stroke-width="1.5" />
<line x1="583.70" y1="202.50" x2="583.70" y2="208.50" stroke="#111" stroke-width="1.5" />
<line x1="571.70" y1="202.50" x2="571.70" y2="208.50" stroke="#111" stroke-width="1.5" />
<line x1="560.00" y1="208.50" x2="594.00" y2="208.50" stroke="#111" stroke-width="1.5" />
<line x1="590.00" y1="208.50" x2="590.00" y2="214.50" stroke="#111" stroke-width="1.5" />
<line x1="578.00" y1="208.50" x2="578.00" y2="214.50" stroke="#111" stroke-width="1.5" />
<line x1="560.00" y1="214.50" x2="594.00" y2="214.50" stroke="#111" stroke-width="1.5" />
<line x1="583.70" y1="214.50" x2="583.70" y2="220.50" stroke="#111" stroke-width="1.5" />
<line x1="571.70" y1="214.50" x2="571.70" y2="220.50" stroke="#111" stroke-width="1.5" />
<line x1="560.00" y1="220.50" x2="594.00" y2="220.50" stroke="#111" stroke-width="1.5" />
<line x1="590.00" y1="220.50" x2="590.00" y2="226.50" stroke="#111" stroke-width="1.5" />
<line x1="578.00" y1="220.50" x2="578.00" y2="226.50" stroke="#111" stroke-width="1.5" />
<line x1="560.00" y1="226.50" x2="594.00" y2="226.50" stroke="#111" stroke-width="1.5" />
<line x1="583.70" y1="226.50" x2="583.70" y2="232.50" stroke="#111" stroke-width="1.5" />
<line x1="571.70" y1="226.50" x2="571.70" y2="232.50" stroke="#111" stroke-width="1.5" />
<line x1="560.00" y1="232.50" x2="594.00" y2="232.50" stroke="#111" stroke-width="1.5" />
<line x1="590.00" y1="232.50" x2="590.00" y2="238.50" stroke="#111" stroke-width="1.5" />
<line x1="578.00" y1="232.50" x2="578.00" y2="238.50" stroke="#111" stroke-width="1.5" />
<line x1="560.00" y1="238.50" x2="594.00" y2="238.50" stroke="#111" stroke-width="1.5" />
<line x1="583.70" y1="238.50" x2="583.70" y2="244.50" stroke="#111" stroke-width="1.5" />
<line x1="571.70" y1="238.50" x2="571.70" y2="244.50" stroke="#111" stroke-width="1.5" />
<line x1="560.00" y1="244.50" x2="594.00" y2="244.50" stroke="#111" stroke-width="1.5" />
<line x1="590.00" y1="244.50" x2="590.00" y2="250.50" stroke="#111" stroke-width="1.5" />
<line x1="578.00" y1="244.50" x2="578.00" y2="250.50" stroke="#111" stroke-width="1.5" />
<line x1="560.00" y1="250.50" x2="594.00" y2="250.50" stroke="#111" stroke-width="1.5" />
<line x1="583.70" y1="250.50" x2="583.70" y2="256.50" stroke="#111" stroke-width="1.5" />
<line x1="571.70" y1="250.50" x2="571.70" y2="256.50" stroke="#111" stroke-width="1.5" />
<line x1="560.00" y1="256.50" x2="594.00" y2="256.50" stroke="#111" stroke-width="1.5" />
<line x1="590.00" y1="256.50" x2="590.00" y2="262.50" stroke="#111" stroke-width="1.5" />
<line x1="578.00" y1="256.50" x2="578.00" y2="262.50" stroke="#111" stroke-width="1.5" />
<line x1="560.00" y1="262.50" x2="594.00" y2="262.50" stroke="#111" stroke-width="1.5" />
<line x1="583.70" y1="262.50" x2="583.70" y2="268.50" stroke="#111" stroke-width="1.5" />
<line x1="571.70" y1="262.50" x2="571.70" y2="268.50" stroke="#111" stroke-width="1.5" />
<line x1="560.00" y1="268.50" x2="594.00" y2="268.50" stroke="#111" stroke-width="1.5" />
<line x1="590.00" y1="268.50" x2="590.00" y2="274.50" stroke="#111" stroke-width="1.5" />
<line x1="578.00" y1="268.50" x2="578.00" y2="274.50" stroke="#111" stroke-width="1.5" />
<line x1="560.00" y1="274.50" x2="594.00" y2="274.50" stroke="#111" stroke-width="1.5" />
<line x1="583.70" y1="274.50" x2="583.70" y2="280.50" stroke="#111" stroke-width="1.5" />
<line x1="571.70" y1="274.50" x2="571.70" y2="280.50" stroke="#111" stroke-width="1.5" />
<line x1="560.00" y1="280.50" x2="594.00" y2="280.50" stroke="#111" stroke-width="1.5" />
<line x1="590.00" y1="280.50" x2="590.00" y2="286.50" stroke="#111" stroke-width="1.5" />
<line x1="578.00" y1="280.50" x2="578.00" y2="286.50" stroke="#111" stroke-width="1.5" />
<line x1="560.00" y1="286.50" x2="594.00" y2="286.50" stroke="#111" stroke-width="1.5" />
<line x1="583.70" y1="286.50" x2="583.70" y2="292.50" stroke="#111" stroke-width="1.5" />
<line x1="571.70" y1="286.50" x2="571.70" y2="292.50" stroke="#111" stroke-width="1.5" />
<line x1="560.00" y1="292.50" x2="594.00" y2="292.50" stroke="#111" stroke-width="1.5" />
<line x1="590.00" y1="292.50" x2="590.00" y2="298.50" stroke="#111" stroke-width="1.5" />
<line x1="578.00" y1="292.50" x2="578.00" y2="298.50" stroke="#111" stroke-width="1.5" />
<line x1="560.00" y1="298.50" x2="594.00" y2="298.50" stroke="#111" stroke-width="1.5" />
<line x1="583.70" y1="298.50" x2="583.70" y2="304.50" stroke="#111" stroke-width="1.5" />
<line x1="571.70" y1="298.50" x2="571.70" y2="304.50" stroke="#111" stroke-width="1.5" />
<line x1="560.00" y1="304.50" x2="594.00" y2="304.50" stroke="#111" stroke-width="1.5" />
<line x1="590.00" y1="304.50" x2="590.00" y2="310.50" stroke="#111" stroke-width="1.5" />
<line x1="578.00" y1="304.50" x2="578.00" y2="310.50" stroke="#111" stroke-width="1.5" />
<line x1="594.00" y1="150.00" x2="594.00" y2="312.00" stroke="#111" stroke-width="2.0" />
<line x1="601.50" y1="150.00" x2="601.50" y2="240.00" stroke="#111" stroke-width="1.5" />
<line x1="594.00" y1="240.00" x2="667.60" y2="240.00" stroke="#111" stroke-width="1.5" />
<path d="M594 241.6 Q631 245 667.6 241.6" stroke="#111" stroke-width="1.05" fill="none" />
<line x1="594.00" y1="242.60" x2="730.00" y2="242.60" stroke="#111" stroke-width="1.1" />
<line x1="594.00" y1="249.40" x2="730.00" y2="249.40" stroke="#111" stroke-width="1.3" />
<line x1="631.00" y1="150.00" x2="631.00" y2="219.00" stroke="#111" stroke-width="1.3" />
<line x1="652.60" y1="150.00" x2="652.60" y2="206.00" stroke="#111" stroke-width="1.3" />
<line x1="631.00" y1="206.00" x2="652.60" y2="206.00" stroke="#111" stroke-width="1.3" />
<line x1="667.60" y1="187.60" x2="667.60" y2="276.60" stroke="#111" stroke-width="1.3" />
<rect x="631.60" y="206.60" width="2.60" height="10.60" stroke="#111" stroke-width="0.6" fill="#888"/>
<rect x="641.60" y="206.60" width="2.80" height="10.60" stroke="#111" stroke-width="0.6" fill="#888"/>
<rect x="635.00" y="207.00" width="5.40" height="9.60" stroke="#111" stroke-width="0.6" fill="none"/>
<line x1="635.40" y1="216.00" x2="640.00" y2="208.00" stroke="#111" stroke-width="0.6" />
<line x1="635.20" y1="211.50" x2="637.80" y2="207.40" stroke="#111" stroke-width="0.6" />
<path d="M631 217 H652.6 V219 H631 Z" stroke="#111" stroke-width="0.6" fill="#999" />
<path d="M630 218.8 H668 V222.6 H651.6 V229.2 H667.8 V241.4 H665 V232.6 H647.6 V222.6 H634 V241 H630 Z" stroke="#111" stroke-width="0.6" fill="#111" />
<path d="M668 219.4 H730 V222.2 H668 Z" stroke="#111" stroke-width="0.8" fill="#aaa" />
<line x1="668.00" y1="219.30" x2="730.00" y2="219.30" stroke="#111" stroke-width="1.0" />
<line x1="668.00" y1="222.40" x2="730.00" y2="222.40" stroke="#111" stroke-width="1.0" />
<rect x="652.40" y="224.30" width="80.00" height="3.40" stroke="#111" stroke-width="0.95" fill="none"/>
<line x1="654.00" y1="227.60" x2="657.40" y2="224.40" stroke="#111" stroke-width="1.3" />
<line x1="659.40" y1="227.60" x2="662.80" y2="224.40" stroke="#111" stroke-width="1.3" />
<line x1="664.80" y1="227.60" x2="668.20" y2="224.40" stroke="#111" stroke-width="1.3" />
<line x1="670.20" y1="227.60" x2="673.60" y2="224.40" stroke="#111" stroke-width="1.3" />
<line x1="675.60" y1="227.60" x2="679.00" y2="224.40" stroke="#111" stroke-width="1.3" />
<line x1="681.00" y1="227.60" x2="684.40" y2="224.40" stroke="#111" stroke-width="1.3" />
<line x1="686.40" y1="227.60" x2="689.80" y2="224.40" stroke="#111" stroke-width="1.3" />
<line x1="691.80" y1="227.60" x2="695.20" y2="224.40" stroke="#111" stroke-width="1.3" />
<line x1="697.20" y1="227.60" x2="700.60" y2="224.40" stroke="#111" stroke-width="1.3" />
<line x1="702.60" y1="227.60" x2="706.00" y2="224.40" stroke="#111" stroke-width="1.3" />
<line x1="708.00" y1="227.60" x2="711.40" y2="224.40" stroke="#111" stroke-width="1.3" />
<line x1="713.40" y1="227.60" x2="716.80" y2="224.40" stroke="#111" stroke-width="1.3" />
<line x1="718.80" y1="227.60" x2="722.20" y2="224.40" stroke="#111" stroke-width="1.3" />
<line x1="724.20" y1="227.60" x2="727.60" y2="224.40" stroke="#111" stroke-width="1.3" />
<line x1="667.80" y1="229.40" x2="730.00" y2="229.40" stroke="#111" stroke-width="0.95" />
</g>
<circle cx="647.60" cy="230.60" r="75.30" stroke="#111" stroke-width="2.0" fill="none"/>
<path d="M679 159 L711.4 125 H716" stroke="#111" stroke-width="1.8" fill="none" />
<polygon points="679.00,159.00 684.58,150.51 687.19,152.99" fill="#111"/>
<text x="718.00" y="132.00" font-size="18" text-anchor="middle" >1</text>
<line x1="631.00" y1="189.00" x2="667.60" y2="189.00" stroke="#111" stroke-width="1.2" />
<polygon points="631.00,189.00 642.00,187.20 642.00,190.80" fill="#111"/>
<polygon points="667.60,189.00 656.60,190.80 656.60,187.20" fill="#111"/>
<text x="665.50" y="185.00" font-size="18" text-anchor="middle" >20</text>
<line x1="594.00" y1="274.80" x2="667.60" y2="274.80" stroke="#111" stroke-width="1.2" />
<polygon points="594.00,274.80 605.00,273.00 605.00,276.60" fill="#111"/>
<polygon points="667.60,274.80 656.60,276.60 656.60,273.00" fill="#111"/>
<text x="630.50" y="271.00" font-size="18" text-anchor="middle" >50</text>
<line x1="694.00" y1="198.80" x2="694.00" y2="219.40" stroke="#111" stroke-width="1.2" />
<polygon points="694.00,219.40 692.20,208.40 695.80,208.40" fill="#111"/>
<line x1="694.00" y1="229.60" x2="694.00" y2="267.60" stroke="#111" stroke-width="1.2" />
<polygon points="694.00,229.60 695.80,240.60 692.20,240.60" fill="#111"/>
<text x="691.00" y="259.60" font-size="18" text-anchor="middle" transform="rotate(-90 691.00 259.60)" >4</text>
</g>
<g id="front">
<path d="M124 448.6 Q124.6 446.2 128.6 445.3 Q172 437.4 216 433.6 M268 433.6 Q312 437.4 355.4 445.3 Q359.4 446.2 360 448.6" stroke="#111" stroke-width="1.8" fill="none" />
<line x1="215.80" y1="433.20" x2="268.00" y2="433.20" stroke="#111" stroke-width="2.7" />
<rect x="240.60" y="428.20" width="3.00" height="4.40" stroke="#111" stroke-width="1.1" fill="#888"/>
<rect x="104.00" y="449.00" width="275.70" height="6.70" stroke="#111" stroke-width="2.0" fill="none"/>
<path d="M112 456 V814 M372.2 456 V814" stroke="#111" stroke-width="2.0" fill="none" />
<path d="M104 456 V903.2 H379.7 V456" stroke="#111" stroke-width="2.0" fill="none" />
<line x1="112.00" y1="466.50" x2="372.20" y2="466.50" stroke="#111" stroke-width="1.8" />
<line x1="112.00" y1="803.00" x2="372.20" y2="803.00" stroke="#111" stroke-width="1.8" />
<line x1="104.00" y1="814.00" x2="379.70" y2="814.00" stroke="#111" stroke-width="1.9" />
<line x1="104.00" y1="821.00" x2="379.70" y2="821.00" stroke="#111" stroke-width="2.6" />
<line x1="117.50" y1="466.60" x2="117.50" y2="803.00" stroke="#777" stroke-width="0.8" />
<line x1="120.00" y1="466.60" x2="120.00" y2="803.00" stroke="#444" stroke-width="1.1" />
<line x1="364.30" y1="466.60" x2="364.30" y2="803.00" stroke="#777" stroke-width="0.8" />
<line x1="366.60" y1="466.60" x2="366.60" y2="803.00" stroke="#444" stroke-width="1.1" />
<line x1="159.25" y1="466.60" x2="159.25" y2="803.00" stroke="#111" stroke-width="2.0" />
<line x1="162.10" y1="466.60" x2="162.10" y2="803.00" stroke="#111" stroke-width="1.75" />
<line x1="177.00" y1="466.60" x2="177.00" y2="803.00" stroke="#111" stroke-width="2.0" />
<line x1="179.90" y1="466.60" x2="179.90" y2="803.00" stroke="#111" stroke-width="1.75" />
<line x1="303.90" y1="466.60" x2="303.90" y2="803.00" stroke="#111" stroke-width="1.75" />
<line x1="306.90" y1="466.60" x2="306.90" y2="803.00" stroke="#111" stroke-width="1.75" />
<line x1="321.90" y1="466.60" x2="321.90" y2="803.00" stroke="#111" stroke-width="2.0" />
<line x1="324.60" y1="466.60" x2="324.60" y2="803.00" stroke="#111" stroke-width="1.6" />
<line x1="216.60" y1="466.60" x2="216.60" y2="803.00" stroke="#111" stroke-width="1.1" />
<circle cx="169.35" cy="634.85" r="4.85" stroke="#111" stroke-width="1.7" fill="none"/>
<circle cx="314.60" cy="634.85" r="4.85" stroke="#111" stroke-width="1.7" fill="none"/>
<line x1="132.00" y1="555.60" x2="136.80" y2="547.60" stroke="#111" stroke-width="1.1" />
<line x1="133.20" y1="563.20" x2="144.00" y2="544.80" stroke="#111" stroke-width="1.1" />
<line x1="140.20" y1="560.80" x2="145.20" y2="552.40" stroke="#111" stroke-width="1.1" />
<line x1="132.00" y1="717.60" x2="136.80" y2="709.60" stroke="#111" stroke-width="1.1" />
<line x1="133.20" y1="725.20" x2="144.00" y2="706.80" stroke="#111" stroke-width="1.1" />
<line x1="140.20" y1="722.80" x2="145.20" y2="714.40" stroke="#111" stroke-width="1.1" />
<line x1="339.00" y1="555.60" x2="343.80" y2="547.60" stroke="#111" stroke-width="1.1" />
<line x1="340.20" y1="563.20" x2="351.00" y2="544.80" stroke="#111" stroke-width="1.1" />
<line x1="347.20" y1="560.80" x2="352.20" y2="552.40" stroke="#111" stroke-width="1.1" />
<line x1="339.00" y1="717.60" x2="343.80" y2="709.60" stroke="#111" stroke-width="1.1" />
<line x1="340.20" y1="725.20" x2="351.00" y2="706.80" stroke="#111" stroke-width="1.1" />
<line x1="347.20" y1="722.80" x2="352.20" y2="714.40" stroke="#111" stroke-width="1.1" />
<path d="M162.4 534 H213.6 L208.6 537.2 H167.6 Z" stroke="#777" stroke-width="0.5" fill="#999" />
<line x1="162.40" y1="534.00" x2="213.60" y2="534.00" stroke="#111" stroke-width="1.05" />
<line x1="169.60" y1="532.40" x2="210.60" y2="532.40" stroke="#111" stroke-width="1.0" />
<line x1="173.60" y1="532.40" x2="173.60" y2="534.00" stroke="#111" stroke-width="1.1" />
<line x1="206.60" y1="532.40" x2="206.60" y2="534.00" stroke="#111" stroke-width="1.1" />
<path d="M242 527 C242 540 243 548 245.5 556 C249 568 253 580 255.4 590 L277 670 C280 681 282 690 281 700 C279.5 716 272 737 260 738.5 C250 739.5 242.5 722 242 700" stroke="#222" stroke-width="5.0" fill="none" stroke-linecap="butt"/>
<path d="M242 527 C242 540 243 548 245.5 556 C249 568 253 580 255.4 590 L277 670 C280 681 282 690 281 700 C279.5 716 272 737 260 738.5 C250 739.5 242.5 722 242 700" stroke="#fff" stroke-width="3.3" fill="none" stroke-linecap="butt"/>
<line x1="267.40" y1="466.60" x2="267.40" y2="803.00" stroke="#111" stroke-width="1.1" />
<circle cx="242.00" cy="494.00" r="8.40" stroke="#111" stroke-width="1.0" fill="#2a2a2a"/>
<circle cx="242" cy="494" r="6.3" fill="none" stroke="#ddd" stroke-width="3" stroke-dasharray="0.6 1.05"/>
<circle cx="242.00" cy="494.00" r="3.90" stroke="#eee" stroke-width="0.9" fill="#2a2a2a"/>
<circle cx="242.00" cy="494.00" r="1.80" stroke="#fff" stroke-width="0.5" fill="#fff"/>
<path d="M238.6 486.4 Q242 484.6 245.4 486.4" stroke="#999" stroke-width="1.2" fill="none" />
<path d="M238.4 502.2 C239.6 506 240 510 239.8 516 C239.6 520 239.4 523 239.9 526.5 M245.6 502.2 C244.4 506 244 510 244.2 516 C244.4 520 244.6 523 244.1 526.5" stroke="#333" stroke-width="0.9" fill="none" />
<circle cx="242.00" cy="532.00" r="6.80" stroke="#222" stroke-width="1.0" fill="none"/>
<circle cx="242.00" cy="532.00" r="4.00" stroke="#222" stroke-width="1.0" fill="none"/>
<path d="M239.9 526.5 V536 M244.1 526.5 V536" stroke="#333" stroke-width="0.9" fill="none" />
<circle cx="242.00" cy="607.00" r="8.80" stroke="#222" stroke-width="1.0" fill="none"/>
<circle cx="242.00" cy="607.00" r="6.80" stroke="#222" stroke-width="1.0" fill="none"/>
<circle cx="242.00" cy="634.80" r="10.00" stroke="#222" stroke-width="1.0" fill="none"/>
<circle cx="242.00" cy="634.80" r="6.80" stroke="#222" stroke-width="1.0" fill="none"/>
<line x1="242" y1="629" x2="242" y2="653.4" stroke="#aaa" stroke-width="3" stroke-linecap="round"/>
<circle cx="242.00" cy="691.60" r="5.60" stroke="#111" stroke-width="1.1" fill="#fff"/>
<rect x="240.20" y="697.00" width="3.60" height="2.60" stroke="#111" stroke-width="0.7" fill="#fff"/>
<line x1="55.00" y1="428.00" x2="440.60" y2="428.00" stroke="#111" stroke-width="1.05" />
<line x1="55.60" y1="428.20" x2="55.60" y2="903.20" stroke="#111" stroke-width="1.2" />
<polygon points="55.60,428.20 57.20,436.20 54.00,436.20" fill="#111"/>
<polygon points="55.60,903.20 54.00,895.20 57.20,895.20" fill="#111"/>
<line x1="55.00" y1="903.40" x2="104.00" y2="903.40" stroke="#111" stroke-width="1.05" />
<text x="54.00" y="665.50" font-size="14" text-anchor="middle" transform="rotate(-90 54.00 665.50)" >2200</text>
<line x1="379.60" y1="455.60" x2="418.00" y2="455.60" stroke="#111" stroke-width="1.05" />
<line x1="417.40" y1="428.20" x2="417.40" y2="455.40" stroke="#111" stroke-width="1.2" />
<polygon points="417.40,428.20 419.00,436.20 415.80,436.20" fill="#111"/>
<polygon points="417.40,455.40 415.80,447.40 419.00,447.40" fill="#111"/>
<text x="415.20" y="441.40" font-size="14" text-anchor="middle" transform="rotate(-90 415.20 441.40)" >140</text>
<line x1="417.40" y1="455.80" x2="417.40" y2="813.80" stroke="#111" stroke-width="1.2" />
<polygon points="417.40,455.80 419.00,463.80 415.80,463.80" fill="#111"/>
<polygon points="417.40,813.80 415.80,805.80 419.00,805.80" fill="#111"/>
<text x="415.20" y="634.00" font-size="14" text-anchor="middle" transform="rotate(-90 415.20 634.00)" >1650</text>
<line x1="379.60" y1="814.00" x2="441.00" y2="814.00" stroke="#111" stroke-width="1.05" />
<line x1="417.40" y1="814.20" x2="417.40" y2="903.20" stroke="#111" stroke-width="1.2" />
<polygon points="417.40,814.20 419.00,822.20 415.80,822.20" fill="#111"/>
<polygon points="417.40,903.20 415.80,895.20 419.00,895.20" fill="#111"/>
<text x="415.20" y="858.60" font-size="14" text-anchor="middle" transform="rotate(-90 415.20 858.60)" >410</text>
<line x1="379.60" y1="903.40" x2="419.00" y2="903.40" stroke="#111" stroke-width="1.05" />
<line x1="439.80" y1="428.20" x2="439.80" y2="813.80" stroke="#111" stroke-width="1.2" />
<polygon points="439.80,428.20 441.40,436.20 438.20,436.20" fill="#111"/>
<polygon points="439.80,813.80 438.20,805.80 441.40,805.80" fill="#111"/>
<text x="437.60" y="620.00" font-size="14" text-anchor="middle" transform="rotate(-90 437.60 620.00)" >1790</text>
</g>
<g id="secAA">
<text x="644.50" y="387.00" font-size="15.8" text-anchor="middle" >Разрез А-А</text>
<line x1="501.00" y1="420.50" x2="769.00" y2="420.50" stroke="#111" stroke-width="1.05" />
<line x1="501.60" y1="420.70" x2="501.60" y2="483.40" stroke="#111" stroke-width="1.2" />
<polygon points="501.60,420.70 503.20,428.70 500.00,428.70" fill="#111"/>
<polygon points="501.60,483.40 500.00,475.40 503.20,475.40" fill="#111"/>
<text x="499.60" y="450.00" font-size="14" text-anchor="middle" transform="rotate(-90 499.60 450.00)" >290</text>
<line x1="518.40" y1="420.70" x2="518.40" y2="479.30" stroke="#111" stroke-width="1.2" />
<polygon points="518.40,420.70 520.00,428.70 516.80,428.70" fill="#111"/>
<polygon points="518.40,479.30 516.80,471.30 520.00,471.30" fill="#111"/>
<text x="516.60" y="450.00" font-size="14" text-anchor="middle" transform="rotate(-90 516.60 450.00)" >270</text>
<line x1="537.00" y1="427.20" x2="537.00" y2="479.30" stroke="#111" stroke-width="1.2" />
<polygon points="537.00,427.20 538.60,435.20 535.40,435.20" fill="#111"/>
<polygon points="537.00,479.30 535.40,471.30 538.60,471.30" fill="#111"/>
<text x="535.00" y="453.00" font-size="14" text-anchor="middle" transform="rotate(-90 535.00 453.00)" >240</text>
<line x1="536.00" y1="427.00" x2="620.50" y2="427.00" stroke="#111" stroke-width="1.05" />
<line x1="517.60" y1="479.60" x2="574.00" y2="479.60" stroke="#111" stroke-width="1.05" />
<line x1="501.00" y1="483.60" x2="565.00" y2="483.60" stroke="#111" stroke-width="1.05" />
<line x1="538.00" y1="409.00" x2="586.00" y2="409.00" stroke="#111" stroke-width="1.1" />
<polygon points="555.80,409.00 547.80,410.60 547.80,407.40" fill="#111"/>
<polygon points="568.50,409.00 576.50,407.40 576.50,410.60" fill="#111"/>
<line x1="555.80" y1="408.00" x2="555.80" y2="420.50" stroke="#111" stroke-width="1.05" />
<line x1="568.50" y1="408.00" x2="568.50" y2="420.50" stroke="#111" stroke-width="1.05" />
<text x="562.00" y="407.00" font-size="14" text-anchor="middle" >60</text>
<path d="M556.4 427.2 V421.2 H568.4 L573.4 474.6 Q574 479.3 579 479.3 H594.5 Q597 480 598.8 483.8" stroke="#111" stroke-width="2.5" fill="none" />
<path d="M609.4 483.8 Q611 480 613.5 479.3 H707 Q712.2 479.3 712.8 474.6 L717.8 421.2 H729.8 V508.8" stroke="#111" stroke-width="2.5" fill="none" />
<path d="M555.6 420.6 h2.6 v6.8 h-2.6 z" stroke="#111" stroke-width="0.5" fill="#111" />
<line x1="717.60" y1="427.00" x2="730.00" y2="427.00" stroke="#111" stroke-width="1.0" />
<path d="M727.6 420.6 h2.8 v6.8 h-2.8 z" stroke="#111" stroke-width="0.5" fill="#111" />
<path d="M564.6 479.6 V483.6 H727.4 V479.6" stroke="#111" stroke-width="1.0" fill="none" />
<line x1="707.00" y1="479.60" x2="727.40" y2="479.60" stroke="#111" stroke-width="1.0" />
<line x1="564.60" y1="479.60" x2="575.00" y2="479.60" stroke="#111" stroke-width="1.0" />
<line x1="577.50" y1="467.80" x2="630.50" y2="467.80" stroke="#111" stroke-width="1.1" />
<polygon points="594.50,467.80 586.50,469.40 586.50,466.20" fill="#111"/>
<polygon points="613.50,467.80 621.50,466.20 621.50,469.40" fill="#111"/>
<line x1="594.50" y1="467.00" x2="594.50" y2="479.60" stroke="#111" stroke-width="1.05" />
<line x1="613.50" y1="427.00" x2="613.50" y2="479.60" stroke="#111" stroke-width="1.05" />
<line x1="620.40" y1="427.00" x2="620.40" y2="479.60" stroke="#111" stroke-width="1.05" />
<text x="603.80" y="465.00" font-size="14" text-anchor="middle" >Ø90</text>
<path d="M569.1999999999999 483.6 V497.6 M572.4 483.6 V497.6" stroke="#111" stroke-width="1.0" fill="none" />
<line x1="570.8" y1="484" x2="570.8" y2="497.4" stroke="#444" stroke-width="2.4" stroke-dasharray="0.6 0.6"/>
<path d="M568.4 497.6 h4.8 v4.2 h-4.8 z" stroke="#111" stroke-width="0.9" fill="#fff" />
<path d="M568.1999999999999 501.8 L566.8 507.4 H574.8 L573.4 501.8 Z" stroke="#111" stroke-width="1.0" fill="#777" />
<rect x="569.70" y="503.00" width="2.20" height="4.00" stroke="#fff" stroke-width="0.4" fill="#fff"/>
<line x1="565.40" y1="508.20" x2="576.20" y2="508.20" stroke="#111" stroke-width="2.0" />
<path d="M568.8 478 h4 v1.8 h-4 z" stroke="#111" stroke-width="0.5" fill="#111" />
<path d="M719.4 483.6 V497.6 M722.6 483.6 V497.6" stroke="#111" stroke-width="1.0" fill="none" />
<line x1="721" y1="484" x2="721" y2="497.4" stroke="#444" stroke-width="2.4" stroke-dasharray="0.6 0.6"/>
<path d="M718.6 497.6 h4.8 v4.2 h-4.8 z" stroke="#111" stroke-width="0.9" fill="#fff" />
<path d="M718.4 501.8 L717 507.4 H725 L723.6 501.8 Z" stroke="#111" stroke-width="1.0" fill="#777" />
<rect x="719.90" y="503.00" width="2.20" height="4.00" stroke="#fff" stroke-width="0.4" fill="#fff"/>
<line x1="715.60" y1="508.20" x2="726.40" y2="508.20" stroke="#111" stroke-width="2.0" />
<path d="M719 478 h4 v1.8 h-4 z" stroke="#111" stroke-width="0.5" fill="#111" />
<line x1="574.40" y1="484.00" x2="574.40" y2="536.40" stroke="#111" stroke-width="1.05" />
<line x1="710.00" y1="484.00" x2="710.00" y2="536.40" stroke="#111" stroke-width="1.05" />
<line x1="574.40" y1="535.40" x2="710.00" y2="535.40" stroke="#111" stroke-width="1.2" />
<polygon points="574.40,535.40 582.40,533.80 582.40,537.00" fill="#111"/>
<polygon points="710.00,535.40 702.00,537.00 702.00,533.80" fill="#111"/>
<text x="643.00" y="532.60" font-size="14" text-anchor="middle" >620</text>
<line x1="725.40" y1="508.40" x2="725.40" y2="536.40" stroke="#111" stroke-width="1.05" />
<line x1="729.60" y1="508.40" x2="729.60" y2="536.40" stroke="#111" stroke-width="1.05" />
<line x1="710.00" y1="535.40" x2="725.40" y2="535.40" stroke="#111" stroke-width="1.1" />
<polygon points="725.40,535.40 717.40,537.00 717.40,533.80" fill="#111"/>
<line x1="729.60" y1="535.40" x2="766.00" y2="535.40" stroke="#111" stroke-width="1.1" />
<polygon points="729.60,535.40 737.60,533.80 737.60,537.00" fill="#111"/>
<text x="756.60" y="532.60" font-size="14" text-anchor="middle" >20</text>
<line x1="716.00" y1="508.40" x2="769.00" y2="508.40" stroke="#111" stroke-width="1.05" />
<line x1="767.60" y1="420.70" x2="767.60" y2="508.20" stroke="#111" stroke-width="1.2" />
<polygon points="767.60,420.70 769.20,428.70 766.00,428.70" fill="#111"/>
<polygon points="767.60,508.20 766.00,500.20 769.20,500.20" fill="#111"/>
<text x="765.60" y="464.00" font-size="14" text-anchor="middle" transform="rotate(-90 765.60 464.00)" >410</text>
</g>
<g id="plan">
<path d="M556.5 651.8 H729.8 V716.6 A108 108 0 0 1 621.8 824.6 H556.5 Z" stroke="#111" stroke-width="2.1" fill="none" />
<path d="M580.5 664.4 H701.6 A15 15 0 0 1 716.6 679.4 V720.6 A91 91 0 0 1 625.6 811.6 H580.5 A11 11 0 0 1 569.5 800.6 V675.4 A11 11 0 0 1 580.5 664.4 Z" stroke="#111" stroke-width="2.0" fill="none" />
<path d="M620.5 668.5 H581 A7.5 7.5 0 0 0 573.5 676 V715.5" stroke="#111" stroke-width="1.5" fill="none" />
<path d="M616.2 668.8 C615.8 676 613.8 684 608.4 693 C602 702.6 593 707.4 578 709.7 Q574.4 710.6 573.6 714" stroke="#111" stroke-width="1.8" fill="none" />
<line x1="620.50" y1="664.50" x2="620.50" y2="669.00" stroke="#111" stroke-width="1.5" />
<line x1="569.50" y1="715.50" x2="574.00" y2="715.50" stroke="#111" stroke-width="1.5" />
<path d="M697.3 675.2 H635 C629.0 675.2 624.5 678.0 621 684.0 C617.0 692.0 611.0 701.0 604.0 707.0 C597.0 713.5 589.0 717.0 584.5 722.0 C581 726.0 580 730.0 580 737 V792.9 A8.5 8.5 0 0 0 588.5 801.4 H616.4 A89.4 89.4 0 0 0 705.8 712.0 V683.7 A8.5 8.5 0 0 0 697.3 675.2 Z" stroke="#666" stroke-width="0.8" fill="none" />
<path d="M697.3 677.0 H635 C629.54 677.0 625.58 679.44 622.8 685.08 C618.44 693.08 612.26 702.26 605.26 708.26 C598.08 714.94 590.08 718.44 585.76 723.08 C582.8 726.72 581.8 730.36 581.8 737 V792.9 A6.7 6.7 0 0 0 588.5 799.6 H616.4 A87.60000000000001 87.60000000000001 0 0 0 704.0 712.0 V683.7 A6.7 6.7 0 0 0 697.3 677.0 Z" stroke="#111" stroke-width="1.6" fill="none" />
<circle cx="603.60" cy="779.60" r="10.00" stroke="#111" stroke-width="1.4" fill="none"/>
<circle cx="603.60" cy="779.60" r="7.30" stroke="#888" stroke-width="0.6" fill="none"/>
<circle cx="603.60" cy="779.60" r="5.40" stroke="#111" stroke-width="1.2" fill="none"/>
<circle cx="603.60" cy="779.60" r="3.80" stroke="#999" stroke-width="0.6" fill="none"/>
<line x1="587.52" y1="800.03" x2="638.54" y2="735.20" stroke="#111" stroke-width="0.95" />
<polygon points="610.16,771.27 613.85,763.99 616.36,765.97" fill="#111"/>
<polygon points="597.04,787.93 593.35,795.21 590.84,793.23" fill="#111"/>
<text x="628.40" y="746.00" font-size="14" text-anchor="middle" transform="rotate(-51.8 628.40 746.00)" >Ø90</text>
<line x1="581.91" y1="775.93" x2="653.39" y2="788.02" stroke="#111" stroke-width="0.95" />
<polygon points="593.74,777.93 585.59,778.18 586.12,775.02" fill="#111"/>
<polygon points="613.46,781.27 621.61,781.02 621.08,784.18" fill="#111"/>
<text x="640.60" y="783.40" font-size="14" text-anchor="middle" transform="rotate(9.6 640.60 783.40)" >Ø50</text>
<line x1="537.00" y1="779.30" x2="603.60" y2="779.30" stroke="#111" stroke-width="1.05" />
<line x1="538.00" y1="779.50" x2="538.00" y2="824.30" stroke="#111" stroke-width="1.2" />
<polygon points="538.00,779.50 539.60,787.50 536.40,787.50" fill="#111"/>
<polygon points="538.00,824.30 536.40,816.30 539.60,816.30" fill="#111"/>
<text x="536.00" y="802.00" font-size="14" text-anchor="middle" transform="rotate(-90 536.00 802.00)" >210</text>
<line x1="517.00" y1="824.80" x2="556.50" y2="824.80" stroke="#111" stroke-width="1.05" />
<line x1="556.50" y1="824.50" x2="556.50" y2="845.20" stroke="#111" stroke-width="1.05" />
<line x1="603.60" y1="769.60" x2="603.60" y2="845.20" stroke="#111" stroke-width="1.05" />
<line x1="556.50" y1="844.00" x2="603.60" y2="844.00" stroke="#111" stroke-width="1.2" />
<polygon points="556.50,844.00 564.50,842.40 564.50,845.60" fill="#111"/>
<polygon points="603.60,844.00 595.60,845.60 595.60,842.40" fill="#111"/>
<text x="579.80" y="841.40" font-size="14" text-anchor="middle" >220</text>
<line x1="517.00" y1="652.00" x2="556.50" y2="652.00" stroke="#111" stroke-width="1.05" />
<line x1="517.60" y1="652.20" x2="517.60" y2="824.60" stroke="#111" stroke-width="1.2" />
<polygon points="517.60,652.20 519.20,660.20 516.00,660.20" fill="#111"/>
<polygon points="517.60,824.60 516.00,816.60 519.20,816.60" fill="#111"/>
<text x="516.00" y="738.00" font-size="14" text-anchor="middle" transform="rotate(-90 516.00 738.00)" >800</text>
<line x1="556.50" y1="622.60" x2="556.50" y2="652.00" stroke="#111" stroke-width="1.05" />
<line x1="729.80" y1="622.60" x2="729.80" y2="652.00" stroke="#111" stroke-width="1.05" />
<line x1="556.50" y1="623.60" x2="729.80" y2="623.60" stroke="#111" stroke-width="1.2" />
<polygon points="556.50,623.60 564.50,622.00 564.50,625.20" fill="#111"/>
<polygon points="729.80,623.60 721.80,625.20 721.80,622.00" fill="#111"/>
<text x="643.00" y="620.20" font-size="14" text-anchor="middle" >800</text>
<line x1="569.50" y1="637.60" x2="569.50" y2="676.00" stroke="#111" stroke-width="1.05" />
<line x1="620.50" y1="637.60" x2="620.50" y2="668.00" stroke="#111" stroke-width="1.05" />
<line x1="569.50" y1="638.60" x2="620.50" y2="638.60" stroke="#111" stroke-width="1.2" />
<polygon points="569.50,638.60 577.50,637.00 577.50,640.20" fill="#111"/>
<polygon points="620.50,638.60 612.50,640.20 612.50,637.00" fill="#111"/>
<text x="594.80" y="636.00" font-size="14" text-anchor="middle" >235</text>
<line x1="537.60" y1="664.50" x2="580.00" y2="664.50" stroke="#111" stroke-width="1.05" />
<line x1="537.60" y1="715.50" x2="573.00" y2="715.50" stroke="#111" stroke-width="1.05" />
<line x1="538.60" y1="664.70" x2="538.60" y2="715.30" stroke="#111" stroke-width="1.2" />
<polygon points="538.60,664.70 540.20,672.70 537.00,672.70" fill="#111"/>
<polygon points="538.60,715.30 537.00,707.30 540.20,707.30" fill="#111"/>
<text x="536.00" y="690.00" font-size="14" text-anchor="middle" transform="rotate(-90 536.00 690.00)" >235</text>
<line x1="652.30" y1="570.00" x2="652.30" y2="600.00" stroke="#111" stroke-width="2.4" stroke-linecap="round"/>
<path d="M626 582.2 V584.9 H647" stroke="#111" stroke-width="1.8" fill="none" />
<polygon points="651.60,584.90 644.60,586.50 644.60,583.30" fill="#111"/>
<text x="631.90" y="578.90" font-size="15.3" text-anchor="middle" transform="rotate(-90 631.90 578.90)" >B</text>
<line x1="652.30" y1="875.00" x2="652.30" y2="905.00" stroke="#111" stroke-width="2.4" stroke-linecap="round"/>
<path d="M626 887.2 V889.9 H647" stroke="#111" stroke-width="1.8" fill="none" />
<polygon points="651.60,889.90 644.60,891.50 644.60,888.30" fill="#111"/>
<text x="631.90" y="883.90" font-size="15.3" text-anchor="middle" transform="rotate(-90 631.90 883.90)" >B</text>
<line x1="456.60" y1="730.50" x2="486.80" y2="730.50" stroke="#111" stroke-width="2.4" stroke-linecap="round"/>
<path d="M471.70000000000005 737 V757 H474.0" stroke="#111" stroke-width="1.8" fill="none" />
<polygon points="471.70,731.80 473.30,738.80 470.10,738.80" fill="#111"/>
<text x="479.00" y="762.20" font-size="15.3" text-anchor="middle" >A</text>
<line x1="754.20" y1="730.50" x2="784.40" y2="730.50" stroke="#111" stroke-width="2.4" stroke-linecap="round"/>
<path d="M769.3000000000001 737 V757 H771.6" stroke="#111" stroke-width="1.8" fill="none" />
<polygon points="769.30,731.80 770.90,738.80 767.70,738.80" fill="#111"/>
<text x="776.60" y="762.20" font-size="15.3" text-anchor="middle" >A</text>
</g>
<g id="secBB">
<text x="811.60" y="738.30" font-size="15.8" text-anchor="middle" transform="rotate(-90 811.60 738.30)" >Разрез В-В</text>
<line x1="842.00" y1="671.00" x2="893.00" y2="671.00" stroke="#111" stroke-width="1.05" />
<line x1="842.00" y1="805.40" x2="893.00" y2="805.40" stroke="#111" stroke-width="1.05" />
<line x1="843.00" y1="671.20" x2="843.00" y2="805.20" stroke="#111" stroke-width="1.2" />
<polygon points="843.00,671.20 844.60,679.20 841.40,679.20" fill="#111"/>
<polygon points="843.00,805.20 841.40,797.20 844.60,797.20" fill="#111"/>
<text x="841.00" y="739.00" font-size="14" text-anchor="middle" transform="rotate(-90 841.00 739.00)" >620</text>
<path d="M893.4 823.2 V661.6 Q893.4 660.6 894.4 660.6 H897 Q898 660.6 898 661.6" stroke="#111" stroke-width="1.0" fill="none" />
<line x1="893.40" y1="823.20" x2="898.00" y2="823.20" stroke="#111" stroke-width="1.0" />
<line x1="893.40" y1="823.20" x2="893.40" y2="860.00" stroke="#111" stroke-width="1.05" />
<line x1="898.00" y1="823.20" x2="898.00" y2="845.60" stroke="#111" stroke-width="1.05" />
<path d="M897.8 661.6 V769.8 M897.8 823.2 V787" stroke="#111" stroke-width="2.6" fill="none" />
<path d="M897.8 769.8 L892.4 773.6 M897.8 787 L892.4 783.4" stroke="#111" stroke-width="1.8" fill="none" />
<line x1="897.60" y1="769.00" x2="897.60" y2="788.00" stroke="#111" stroke-width="1.0" />
<line x1="893.4" y1="774" x2="893.4" y2="783" stroke="#fff" stroke-width="1.6"/>
<line x1="893.4" y1="774" x2="893.4" y2="783" stroke="#777" stroke-width="0.8"/>
<path d="M898 676 Q898 670.2 903.6 669.4 L949.8 664 H956.2" stroke="#111" stroke-width="2.2" fill="none" />
<line x1="949.90" y1="651.60" x2="949.90" y2="664.00" stroke="#111" stroke-width="1.2" />
<path d="M953.6 651 h2.9 v13 h-2.9 z" stroke="#111" stroke-width="0.5" fill="#111" />
<path d="M949.6 650.8 h6.6 v3 h-6.6 z" stroke="#111" stroke-width="0.5" fill="#111" />
<path d="M898 800.6 Q898 806 903.6 806.6 L956.2 811.8" stroke="#111" stroke-width="2.2" fill="none" />
<line x1="949.90" y1="811.40" x2="949.90" y2="825.00" stroke="#111" stroke-width="1.2" />
<path d="M953.6 812 h2.9 v13.6 h-2.9 z" stroke="#111" stroke-width="0.5" fill="#111" />
<path d="M949.6 822.8 h6.6 v3 h-6.6 z" stroke="#111" stroke-width="0.5" fill="#111" />
<line x1="956.20" y1="651.00" x2="956.20" y2="860.00" stroke="#111" stroke-width="1.1" />
<path d="M871.6 664.3 H893.4 M871.6 667.3 H893.4" stroke="#111" stroke-width="1.05" fill="none" />
<line x1="872" y1="665.8" x2="893" y2="665.8" stroke="#555" stroke-width="2" stroke-dasharray="0.7 0.7"/>
<path d="M869.4 663.1999999999999 h2.4 v5.2 h-2.4 z" stroke="#111" stroke-width="0.6" fill="#555" />
<path d="M869.4 663.5999999999999 L863.4 662.0 V669.5999999999999 L869.4 668.0 Z" stroke="#111" stroke-width="1.05" fill="none" />
<line x1="861.60" y1="660.60" x2="861.60" y2="671.00" stroke="#111" stroke-width="1.8" />
<path d="M898.2 664.0 h1.6 v3.6 h-1.6 z" stroke="#111" stroke-width="0.5" fill="#111" />
<path d="M871.6 815.7 H893.4 M871.6 818.7 H893.4" stroke="#111" stroke-width="1.05" fill="none" />
<line x1="872" y1="817.2" x2="893" y2="817.2" stroke="#555" stroke-width="2" stroke-dasharray="0.7 0.7"/>
<path d="M869.4 814.6 h2.4 v5.2 h-2.4 z" stroke="#111" stroke-width="0.6" fill="#555" />
<path d="M869.4 815.0 L863.4 813.4000000000001 V821.0 L869.4 819.4000000000001 Z" stroke="#111" stroke-width="1.05" fill="none" />
<line x1="861.60" y1="812.00" x2="861.60" y2="822.40" stroke="#111" stroke-width="1.8" />
<path d="M898.2 815.4000000000001 h1.6 v3.6 h-1.6 z" stroke="#111" stroke-width="0.5" fill="#111" />
<line x1="898.00" y1="844.80" x2="956.20" y2="844.80" stroke="#111" stroke-width="1.2" />
<polygon points="898.00,844.80 906.00,843.20 906.00,846.40" fill="#111"/>
<polygon points="956.20,844.80 948.20,846.40 948.20,843.20" fill="#111"/>
<text x="927.10" y="841.80" font-size="14" text-anchor="middle" >270</text>
<line x1="893.40" y1="859.20" x2="956.20" y2="859.20" stroke="#111" stroke-width="1.2" />
<polygon points="893.40,859.20 901.40,857.60 901.40,860.80" fill="#111"/>
<polygon points="956.20,859.20 948.20,860.80 948.20,857.60" fill="#111"/>
<text x="924.70" y="856.80" font-size="14" text-anchor="middle" >290</text>
</g>
</svg>
</body></html>
